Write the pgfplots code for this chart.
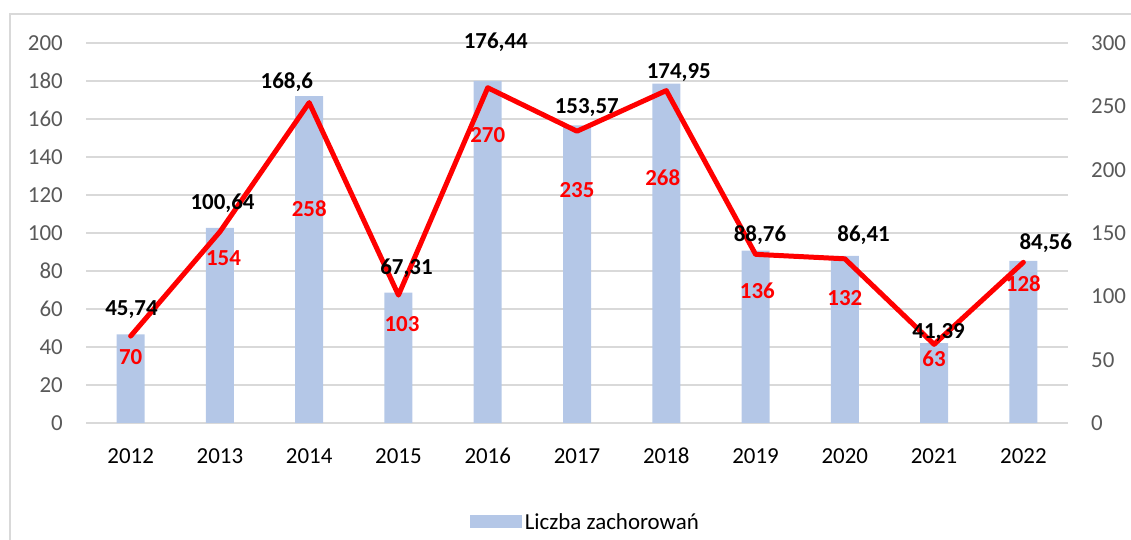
\documentclass[border=0pt]{standalone}
\usepackage{pgfplots}
\pgfplotsset{compat=1.18}
\usepackage{fontspec}
\setmainfont{Carlito}
\definecolor{barblue}{HTML}{B4C7E7}
\definecolor{gridgray}{HTML}{D9D9D9}
\definecolor{ticktext}{HTML}{595959}
\definecolor{lred}{HTML}{FF0000}
\newcommand{\fs}{\fontsize{23}{27}\selectfont}
\begin{document}
\begin{tikzpicture}[x=1bp,y=1bp]
\useasboundingbox (0,0) rectangle (1131,540);
\draw[gridgray, line width=1.5bp] (10,0) -- (10,526) -- (1131,526);
\pgfplotsset{
  base/.style={
    at={(86bp,117bp)}, anchor=south west,
    scale only axis, width=982bp, height=380bp,
    xmin=-0.5, xmax=10.5,
    xtick={0,...,10},
    axis line style={draw=none},
    major tick length=0pt,
    /pgf/number format/assume math mode=true,
    tick label style={font=\fs},
  }
}
% axis 1: left scale, grid, x labels
\begin{axis}[base,
  ymin=0, ymax=200, ytick={0,20,...,200},
  ymajorgrids, grid style={gridgray, line width=1.3bp},
  xticklabels={2012,2013,2014,2015,2016,2017,2018,2019,2020,2021,2022},
  xticklabel style={anchor=north, inner sep=0pt, yshift=-25bp, text=black},
  yticklabel style={anchor=east, inner sep=0pt, xshift=-23bp, text=ticktext},
]
\end{axis}
% axis 2: right scale, bars
\begin{axis}[base,
  axis y line*=right,
  ymin=0, ymax=300, ytick={0,50,...,300},
  xticklabels={},
  yticklabel style={anchor=west, inner sep=0pt, xshift=23bp, text=ticktext},
  legend style={at={(axis description cs:0.509,-0.26)}, anchor=center,
    draw=none, fill=none, font=\fs, text=black,
    nodes={inner sep=3bp}},
]
\addplot[ybar, bar width=28bp, fill=barblue, draw=none,
  legend image code/.code={\fill[barblue] (0bp,-6.5bp) rectangle (52bp,6.5bp);}]
  coordinates {(0,70) (1,154) (2,258) (3,103) (4,270) (5,235) (6,268) (7,136) (8,132) (9,63) (10,128)};
\addlegendentry{Liczba zachorowań}
\end{axis}
% axis 3: line and labels
\begin{axis}[base, hide axis, clip=false, ymin=0, ymax=200]
\addplot[lred, line width=5bp, line join=round, line cap=round]
  coordinates {(0,45.74) (1,100.64) (2,168.6) (3,67.31) (4,176.44) (5,153.57) (6,174.95) (7,88.76) (8,86.41) (9,41.39) (10,84.56)};
\begin{scope}[every node/.style={font=\fs\bfseries, inner sep=0pt}]
\node at (axis cs:0.01,59.5) {45,74};
\node at (axis cs:1.03,115.8) {100,64};
\node at (axis cs:1.75,179.5) {168,6};
\node at (axis cs:3.09,81.6) {67,31};
\node at (axis cs:4.09,200.5) {176,44};
\node at (axis cs:5.11,165.8) {153,57};
\node at (axis cs:6.14,184.7) {174,95};
\node at (axis cs:7.05,99) {88,76};
\node at (axis cs:8.21,99) {86,41};
\node at (axis cs:9.05,47.4) {41,39};
\node at (axis cs:10.25,94.7) {84,56};
\end{scope}
\begin{scope}[every node/.style={font=\fs\bfseries, inner sep=0pt, text=lred}]
\node at (axis cs:0,34.7) {70};
\node at (axis cs:1.04,86.8) {154};
\node at (axis cs:2,113) {258};
\node at (axis cs:3.04,52) {103};
\node at (axis cs:4,151.6) {270};
\node at (axis cs:5,122.6) {235};
\node at (axis cs:5.96,129) {268};
\node at (axis cs:7.02,69.5) {136};
\node at (axis cs:8,65.8) {132};
\node at (axis cs:9,33.7) {63};
\node at (axis cs:10,73.2) {128};
\end{scope}
\end{axis}
\end{tikzpicture}
\end{document}
